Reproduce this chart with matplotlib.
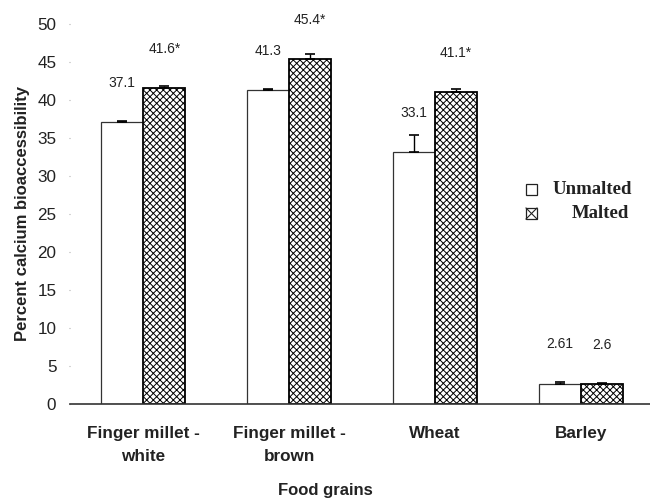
import numpy as np
import matplotlib
matplotlib.use('Agg')
import matplotlib.pyplot as plt
from matplotlib.patches import Rectangle
from matplotlib.lines import Line2D

plt.rcParams['font.family'] = ['Liberation Sans', 'DejaVu Sans']
plt.rcParams['hatch.linewidth'] = 0.7

# calcium bioaccessibility (%) per grain, unmalted vs malted
grains = ['Finger millet -\nwhite', 'Finger millet -\nbrown', 'Wheat', 'Barley']
unmalted = [37.1, 41.3, 33.1, 2.61]
malted = [41.6, 45.4, 41.1, 2.6]
unmalted_err = [0.2, 0.2, 2.3, 0.2]
malted_err = [0.2, 0.6, 0.4, 0.2]
unmalted_lbl = ['37.1', '41.3', '33.1', '2.61']
malted_lbl = ['41.6*', '45.4*', '41.1*', '2.6']

fig = plt.figure(figsize=(6.5, 5.01), dpi=100)
ax = fig.add_axes([0.108, 0.194, 0.898, 0.758])

x = np.arange(len(grains))
w = 0.29
ax.bar(x - w / 2, unmalted, w, color='white', edgecolor='#333333', lw=0.9, zorder=2)
ax.bar(x + w / 2, malted, w, color='white', edgecolor='black', lw=1.3,
       hatch='xxxxx', zorder=2)
ax.errorbar(x - w / 2, unmalted, yerr=[np.zeros(4), unmalted_err], fmt='none',
            ecolor='black', elinewidth=1, capsize=3.5, capthick=1.2, zorder=3)
ax.errorbar(x + w / 2, malted, yerr=[np.zeros(4), malted_err], fmt='none',
            ecolor='black', elinewidth=1, capsize=3.5, capthick=1.2, zorder=3)

for xi, v, s in zip(x - w / 2, unmalted, unmalted_lbl):
    ax.text(xi, v + 5.2, s, ha='center', va='center', fontsize=10,
            color='#222222', clip_on=False)
for xi, v, s in zip(x + w / 2, malted, malted_lbl):
    ax.text(xi, v + 5.1, s, ha='center', va='center', fontsize=10,
            color='#222222', clip_on=False)

ax.set_xlim(-0.5, 3.5)
ax.set_ylim(0, 50)
ax.set_yticks(range(0, 51, 5))
ax.set_xticks(x)
ax.set_xticklabels(grains, fontsize=12.3, fontweight='bold', color='#222222',
                   linespacing=1.65)
ax.tick_params(axis='y', labelsize=12.3, length=1, color='#aaaaaa', pad=9,
               labelcolor='#222222')
ax.tick_params(axis='x', length=0, pad=16)
for side in ('left', 'top', 'right'):
    ax.spines[side].set_visible(False)
ax.spines['bottom'].set_color('#333333')
ax.spines['bottom'].set_linewidth(1.2)

ax.set_ylabel('Percent calcium bioaccessibility', fontsize=12, fontweight='bold',
              color='#222222', labelpad=5)
fig.text(0.5, 0.02, 'Food grains', ha='center', va='center', fontsize=12,
         fontweight='bold', color='#222222')

# legend drawn by hand: open box and crossed box with serif labels
bw, bh = 11 / 650, 11 / 501
for y0, label, tx in [(1 - 195 / 501, 'Unmalted', 553 / 650),
                      (1 - 219 / 501, 'Malted', 572 / 650)]:
    fig.add_artist(Rectangle((526 / 650, y0), bw, bh, transform=fig.transFigure,
                             facecolor='white', edgecolor='#222222', lw=0.9))
    if label == 'Malted':
        fig.add_artist(Line2D([526 / 650, 526 / 650 + bw], [y0, y0 + bh],
                              transform=fig.transFigure, color='#222222', lw=0.8))
        fig.add_artist(Line2D([526 / 650, 526 / 650 + bw], [y0 + bh, y0],
                              transform=fig.transFigure, color='#222222', lw=0.8))
    fig.text(tx, y0 + bh / 2, label, ha='left', va='center', fontsize=13.5,
             fontweight='bold', family='Liberation Serif', color='#222222')

fig.savefig('out.png', dpi=100)
